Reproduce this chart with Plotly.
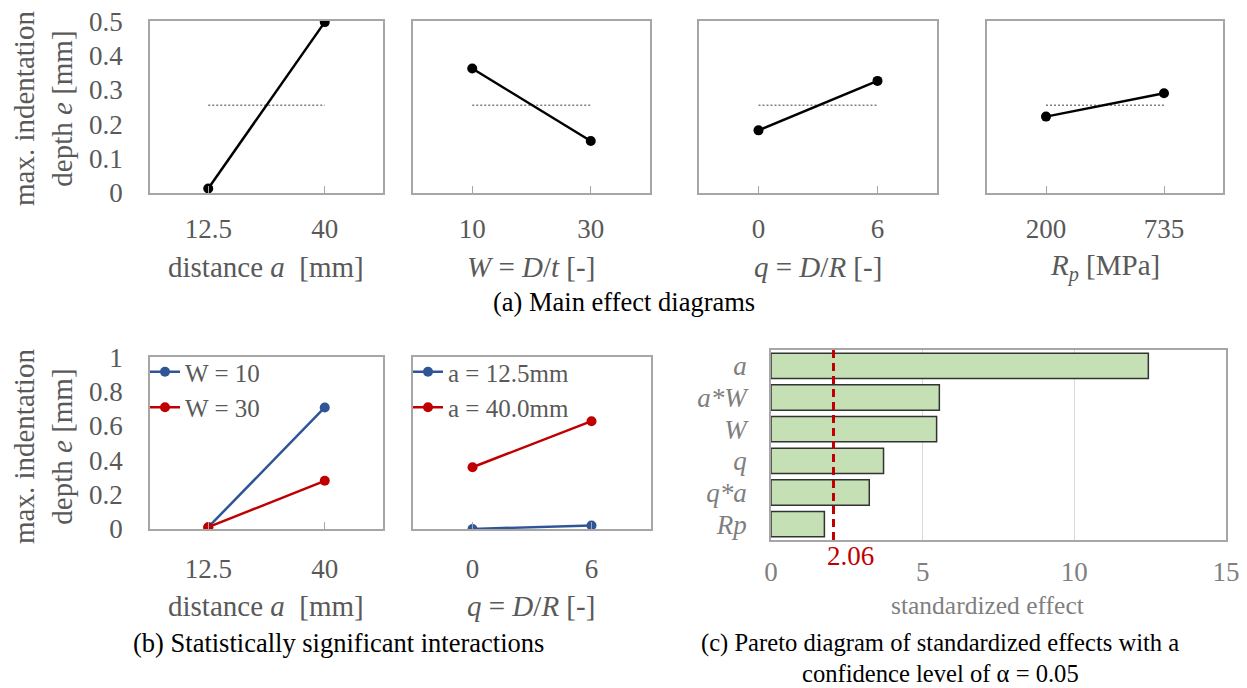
import plotly.graph_objects as go

# ---------------- data ----------------
a_levels = ["12.5", "40"]
a_effect = [0.013, 0.497]
W_levels = ["10", "30"]
W_effect = [0.362, 0.151]
q_levels = ["0", "6"]
q_effect = [0.182, 0.326]
Rp_levels = ["200", "735"]
Rp_effect = [0.222, 0.290]
grand_mean = 0.255

inter_a_levels = ["12.5", "40"]
W10_vals = [0.01, 0.707]
W30_vals = [0.01, 0.280]
inter_q_levels = ["0", "6"]
a125_vals = [0.0, 0.02]
a400_vals = [0.359, 0.627]

pareto_terms = ["a", "a*W", "W", "q", "q*a", "Rp"]
pareto_effects = [12.44, 5.55, 5.46, 3.71, 3.24, 1.76]
critical_value = 2.06

top_yticks = [0, 0.1, 0.2, 0.3, 0.4, 0.5]
top_yticklabels = ["0", "0.1", "0.2", "0.3", "0.4", "0.5"]
bot_yticks = [0, 0.2, 0.4, 0.6, 0.8, 1.0]
bot_yticklabels = ["0", "0.2", "0.4", "0.6", "0.8", "1"]

# ---------------- layout helpers ----------------
OFF = 8                     # page body margin of the browser
FW, FH = 1247 - OFF, 688 - OFF
FONT = "Liberation Serif, Times New Roman, Tinos, DejaVu Serif, serif"
GRAY = "#595959"
LGRAY = "#7F7F7F"
BOX = "#A6A6A6"
BLUE = "#2F5597"
RED = "#C00000"


def px(x):
    return (x - OFF) / FW


def py(y):
    return 1 - (y - OFF) / FH


def xd(a, b):
    return [px(a), px(b)]


def yd(top, bottom):
    return [py(bottom), py(top)]


fig = go.Figure()

# ---- top row main effects ----
top_panels = [
    (a_levels, a_effect, (150, 383)),
    (W_levels, W_effect, (413, 650)),
    (q_levels, q_effect, (699, 937)),
    (Rp_levels, Rp_effect, (987, 1223)),
]
for i, (lv, vals, (x0, x1)) in enumerate(top_panels, start=1):
    xa, ya = f"x{i}", f"y{i}"
    fig.add_trace(go.Scatter(x=lv, y=[grand_mean, grand_mean], mode="lines",
                             line=dict(color="#808080", width=1.5, dash="2px,2px"),
                             xaxis=xa, yaxis=ya, showlegend=False, hoverinfo="skip"))
    fig.add_trace(go.Scatter(x=lv, y=vals, mode="lines+markers",
                             line=dict(color="black", width=2.5),
                             marker=dict(color="black", size=10),
                             xaxis=xa, yaxis=ya, showlegend=False))
    sfx = "" if i == 1 else str(i)
    fig.layout["xaxis" + sfx] = dict(
        domain=xd(x0, x1), anchor=ya, type="category", range=[-0.5, 1.5],
        showline=True, mirror=True, linecolor=BOX, linewidth=1.5,
        ticks="inside", ticklen=7, tickcolor=BOX, tickwidth=1,
        showgrid=False, zeroline=False, automargin=False,
        tickfont=dict(family=FONT, size=27, color=GRAY), ticklabelstandoff=11)
    fig.layout["yaxis" + sfx] = dict(
        domain=yd(21, 193), anchor=xa, range=[-0.0002, 0.5002],
        tickmode="array", tickvals=top_yticks, ticktext=top_yticklabels,
        showline=True, mirror=True, linecolor=BOX, linewidth=1.5,
        showgrid=False, zeroline=False, ticks="", automargin=False,
        showticklabels=(i == 1), ticklabeloverflow="allow",
        tickfont=dict(family=FONT, size=27, color=GRAY), ticklabelstandoff=20)

# ---- bottom interactions ----
fig.add_trace(go.Scatter(x=inter_a_levels, y=W10_vals, mode="lines+markers", name="W = 10",
                         line=dict(color=BLUE, width=2.5), marker=dict(color=BLUE, size=10),
                         xaxis="x5", yaxis="y5", legend="legend"))
fig.add_trace(go.Scatter(x=inter_a_levels, y=W30_vals, mode="lines+markers", name="W = 30",
                         line=dict(color=RED, width=2.5), marker=dict(color=RED, size=10),
                         xaxis="x5", yaxis="y5", legend="legend"))
fig.add_trace(go.Scatter(x=inter_q_levels, y=a125_vals, mode="lines+markers", name="a = 12.5mm",
                         line=dict(color=BLUE, width=2.5), marker=dict(color=BLUE, size=10),
                         xaxis="x6", yaxis="y6", legend="legend2"))
fig.add_trace(go.Scatter(x=inter_q_levels, y=a400_vals, mode="lines+markers", name="a = 40.0mm",
                         line=dict(color=RED, width=2.5), marker=dict(color=RED, size=10),
                         xaxis="x6", yaxis="y6", legend="legend2"))

for idx, (x0, x1), showlab in [(5, (150, 383), True), (6, (413, 651), False)]:
    fig.layout[f"xaxis{idx}"] = dict(
        domain=xd(x0, x1), anchor=f"y{idx}", type="category", range=[-0.5, 1.5],
        showline=True, mirror=True, linecolor=BOX, linewidth=1.5,
        ticks="inside", ticklen=7, tickcolor=BOX, tickwidth=1,
        showgrid=False, zeroline=False, automargin=False,
        tickfont=dict(family=FONT, size=27, color=GRAY), ticklabelstandoff=15)
    fig.layout[f"yaxis{idx}"] = dict(
        domain=yd(357, 529), anchor=f"x{idx}", range=[-0.0004, 1.0004],
        tickmode="array", tickvals=bot_yticks, ticktext=bot_yticklabels,
        showline=True, mirror=True, linecolor=BOX, linewidth=1.5,
        showgrid=False, zeroline=False, ticks="", showticklabels=showlab, automargin=False,
        ticklabeloverflow="allow",
        tickfont=dict(family=FONT, size=27, color=GRAY), ticklabelstandoff=20)

# ---- pareto ----
fig.add_trace(go.Bar(y=pareto_terms, x=pareto_effects, orientation="h",
                     marker=dict(color="#C5E0B4", line=dict(color="#333333", width=1.5)),
                     xaxis="x7", yaxis="y7", showlegend=False))
fig.add_shape(type="line", xref="x7", yref="y7 domain",
              x0=critical_value, x1=critical_value, y0=0, y1=1,
              line=dict(color=RED, width=3, dash="8px,5px"), layer="above")
fig.layout["xaxis7"] = dict(
    domain=xd(771, 1226), anchor="y7", range=[0, 15], dtick=5,
    showline=True, mirror=True, linecolor=BOX, linewidth=1.5,
    showgrid=True, gridcolor="#D9D9D9", gridwidth=1, zeroline=False, ticks="",
    automargin=False, ticklabeloverflow="allow",
    tickfont=dict(family=FONT, size=27, color=LGRAY), ticklabelstandoff=7)
fig.layout["yaxis7"] = dict(
    domain=yd(350, 540), anchor="x7", type="category", range=[5.5, -0.5],
    tickmode="array", tickvals=pareto_terms, ticktext=pareto_terms,
    showline=True, mirror=True, linecolor=BOX, linewidth=1.5,
    showgrid=False, zeroline=False, ticks="", automargin=False,
    tickfont=dict(family=FONT, size=27, color=LGRAY, style="italic"), ticklabelstandoff=17)

# ---- annotations ----
ann = []


def txt(x, y, s, size=27, color=GRAY, angle=0, xanchor="center"):
    ann.append(dict(x=px(x), y=py(y), xref="paper", yref="paper", text=s,
                    showarrow=False, textangle=angle, xanchor=xanchor, yanchor="middle",
                    font=dict(family=FONT, size=size, color=color)))


ytitle = "max. indentation<br>depth <i>e</i> [mm]"
txt(43, 109, ytitle, size=29, angle=-90)
txt(43, 447, ytitle, size=29, angle=-90)

txt(266, 267, "distance <i>a</i>  [mm]", size=29)
txt(531, 267, "<i>W</i> = <i>D</i>/<i>t</i> [-]", size=29)
txt(818, 267, "<i>q</i> = <i>D</i>/<i>R</i> [-]", size=29)
txt(1105, 267, "<i>R<sub>p</sub></i> [MPa]", size=29)
txt(624, 302, "(a) Main effect diagrams", size=26.5, color="black")

txt(266, 606, "distance <i>a</i>  [mm]", size=29)
txt(531, 606, "<i>q</i> = <i>D</i>/<i>R</i> [-]", size=29)
txt(338, 643, "(b) Statistically significant interactions", size=26.5, color="black")

txt(987, 605, "standardized effect", size=25.5, color=LGRAY)
txt(940, 643, "(c) Pareto diagram of standardized effects with a", size=24.6, color="black")
txt(940, 673, "confidence level of α = 0.05", size=24.6, color="black")
txt(850, 556, f"{critical_value:.2f}", color=RED)

fig.update_layout(
    template="none",
    width=FW, height=FH, margin=dict(l=0, r=0, t=0, b=0, pad=0, autoexpand=False),
    paper_bgcolor="white", plot_bgcolor="white",
    font=dict(family=FONT, color=GRAY),
    annotations=ann,
    legend=dict(x=px(145), y=py(349), xanchor="left", yanchor="top",
                bgcolor="rgba(0,0,0,0)", font=dict(family=FONT, size=25, color=GRAY),
                itemwidth=30, tracegroupgap=0, borderwidth=0),
    legend2=dict(x=px(408), y=py(349), xanchor="left", yanchor="top",
                 bgcolor="rgba(0,0,0,0)", font=dict(family=FONT, size=25, color=GRAY),
                 itemwidth=30, tracegroupgap=0, borderwidth=0),
)

fig.write_html("out.html")
